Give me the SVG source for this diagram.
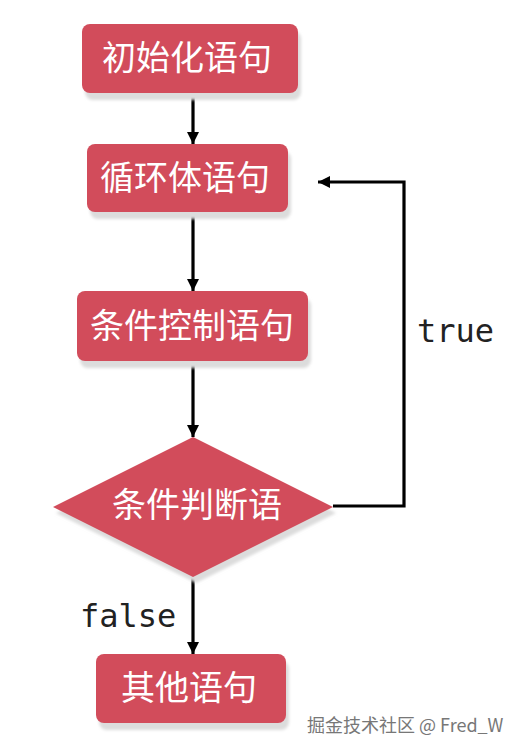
<svg xmlns="http://www.w3.org/2000/svg" width="526" height="752" viewBox="0 0 526 752">
<style>
.box{fill:#D24C5B;}
.sh{fill:#DCDCDC;}
.lbl{fill:#FFFFFF;font-family:"Noto Sans CJK SC","Noto Sans",sans-serif;font-size:34px;text-anchor:middle;dominant-baseline:central;}
.edge{stroke:#000;stroke-width:3.2;fill:none;}
.mono{fill:#222;font-family:"DejaVu Sans Mono","Liberation Mono",monospace;font-size:32px;}
.wm{fill:#777;font-family:"Noto Sans CJK SC","Noto Sans",sans-serif;font-size:18px;}
</style>
<defs>
<filter id="blur" x="-10%" y="-20%" width="120%" height="150%"><feGaussianBlur stdDeviation="1.5"/></filter>
<marker id="ah" viewBox="0 0 10 10" refX="10" refY="5" markerWidth="3.8" markerHeight="3.8" markerUnits="strokeWidth" orient="auto"><path d="M0,0 L10,5 L0,10 z" fill="#000"/></marker>
</defs>
<rect width="526" height="752" fill="#FFFFFF"/>
<g id="connectors">
<line class="edge" x1="193" y1="93" x2="193" y2="144" marker-end="url(#ah)"/>
<line class="edge" x1="193" y1="213" x2="193" y2="291" marker-end="url(#ah)"/>
<line class="edge" x1="193" y1="361" x2="193" y2="437" marker-end="url(#ah)"/>
<line class="edge" x1="193" y1="577" x2="193" y2="654" marker-end="url(#ah)"/>
<polyline class="edge" points="333,506 404,506 404,182 318,182" marker-end="url(#ah)"/>
<text class="mono" x="417" y="342">true</text>
<text class="mono" x="80" y="627">false</text>
</g>
<g id="n1">
<rect class="sh" x="85" y="31" width="216" height="69" rx="8" filter="url(#blur)"/>
<rect class="box" x="82" y="24" width="216" height="69" rx="8"/>
<text class="lbl" x="187" y="55">初始化语句</text>
</g>
<g id="n2">
<rect class="sh" x="90" y="151" width="201" height="68" rx="8" filter="url(#blur)"/>
<rect class="box" x="87" y="144" width="201" height="68" rx="8"/>
<text class="lbl" x="185" y="175">循环体语句</text>
</g>
<g id="n3">
<rect class="sh" x="80" y="298" width="231" height="70" rx="8" filter="url(#blur)"/>
<rect class="box" x="77" y="291" width="231" height="70" rx="8"/>
<text class="lbl" x="192" y="323">条件控制语句</text>
</g>
<g id="n4">
<polygon class="sh" points="196,443 336,513 196,583 56,513" filter="url(#blur)"/>
<polygon class="box" points="193,437 333,507 193,577 53,507"/>
<text class="lbl" x="197" y="502">条件判断语</text>
</g>
<g id="n5">
<rect class="sh" x="99" y="661" width="190" height="69" rx="8" filter="url(#blur)"/>
<rect class="box" x="96" y="654" width="190" height="69" rx="8"/>
<text class="lbl" x="189" y="685">其他语句</text>
</g>
<text class="wm" x="307" y="732">掘金技术社区 @ Fred_W</text>
</svg>
